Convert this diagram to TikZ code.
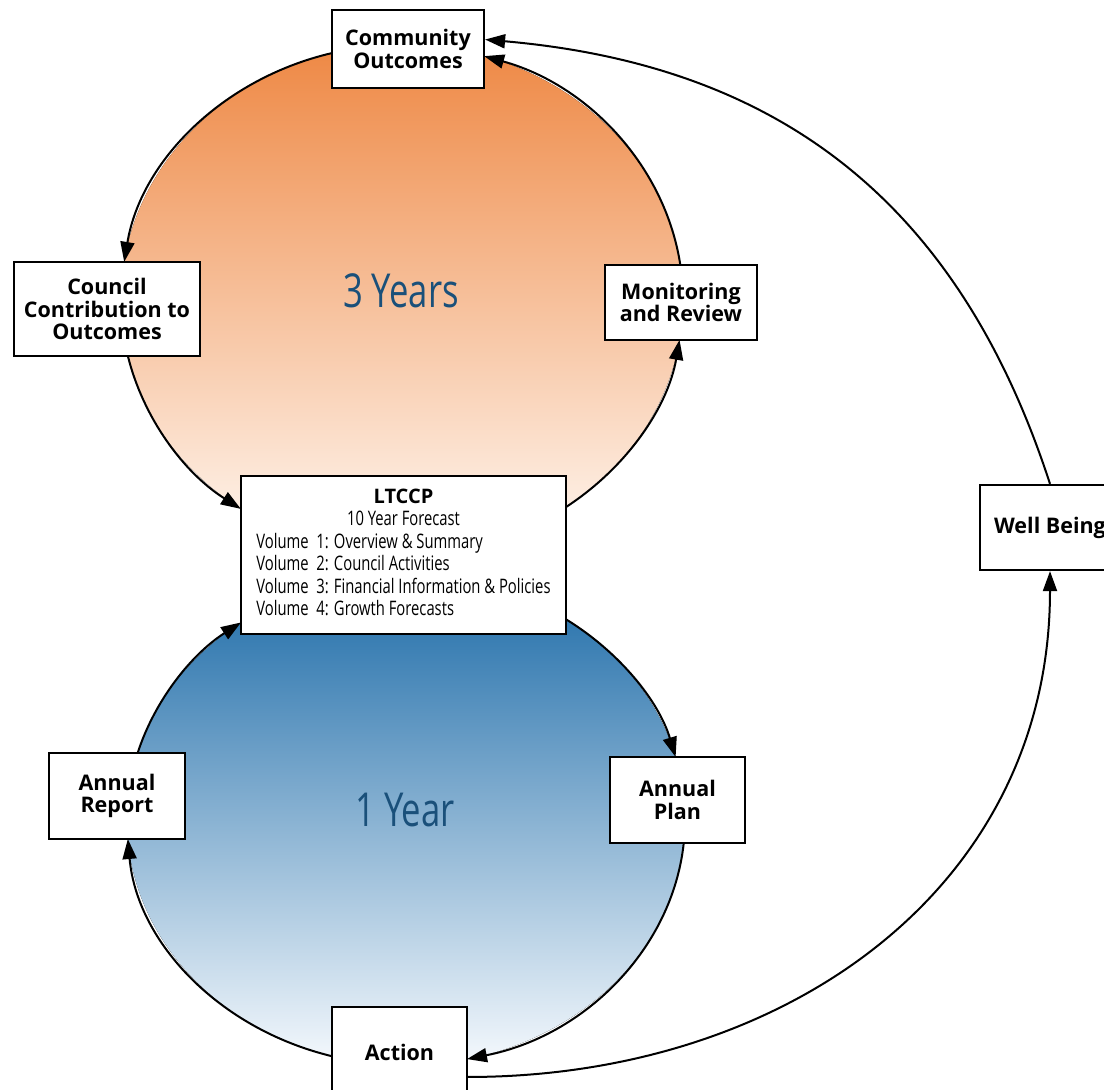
\documentclass[tikz,border=0pt]{standalone}
\usepackage{fontspec}
\setmainfont{Open Sans}
\newfontfamily\condfont[FakeStretch=0.74]{Open Sans}
\usepackage{tikz}
\usetikzlibrary{arrows.meta, calc}
\definecolor{cOrTop}{RGB}{238,136,68}
\definecolor{cOrBot}{RGB}{255,248,242}
\definecolor{cBlTop}{RGB}{30,108,168}
\definecolor{cBlBot}{RGB}{245,249,253}
\definecolor{cYear}{RGB}{26,80,122}
\tikzset{
	stage/.style={rectangle, draw=black, line width=2.2pt, fill=white, align=center, inner sep=0pt, font=\fontsize{21.5}{22.5}\selectfont\bfseries},
	yearlbl/.style={inner sep=0pt, text=cYear, font=\condfont\fontsize{46.8}{48}\selectfont},
	flow/.style={-{Triangle[length=20pt, width=14pt]}, line width=2pt},
}

\begin{document}
\begin{tikzpicture}[x=1pt, y=1pt]
\useasboundingbox (0,0) rectangle (1104,-1090);
\fill[white] (0,0) rectangle (1104,-1090);
% the two cycles, drawn as filled ellipses
\coordinate (top3) at (402,-300);
\coordinate (one1) at (406,-820);
\fill[top color=cOrTop, bottom color=cOrBot] (top3) ellipse [x radius=281, y radius=255];
\fill[top color=cBlTop, bottom color=cBlBot] (one1) ellipse [x radius=279, y radius=245];
\node[yearlbl] (lbl3) at (401,-291) {3 Years};
\node[yearlbl] (lbl1) at (405,-810) {1 Year};
% 3 year cycle
\draw[flow] ($(top3)+(104.4:281 and 255)$) arc[start angle=104.4, end angle=171.4, x radius=281, y radius=255];
\draw[flow] ($(top3)+(192.7:281 and 255)$) arc[start angle=192.7, end angle=235, x radius=281, y radius=255];
\draw[flow] ($(top3)+(305.7:281 and 255)$) arc[start angle=305.7, end angle=351, x radius=281, y radius=255];
\draw[flow] ($(top3)+(7.9:281 and 255)$) arc[start angle=7.9, end angle=73, x radius=281, y radius=255];
% 1 year cycle
\draw[flow] ($(one1)+(55:279 and 245)$) arc[start angle=55, end angle=14.9, x radius=279, y radius=245];
\draw[flow] ($(one1)+(-5.39:279 and 245)$) arc[start angle=-5.39, end angle=-77.37, x radius=279, y radius=245];
\draw[flow] ($(one1)+(254.62:279 and 245)$) arc[start angle=254.62, end angle=184.45, x radius=279, y radius=245];
\draw[flow] ($(one1)+(164.13:279 and 245)$) arc[start angle=164.13, end angle=126.26, x radius=279, y radius=245];

\node[stage, minimum width=152pt, minimum height=78pt] (co) at (408,-49) {Community\\Outcomes};
\node[stage, minimum width=186pt, minimum height=94pt] (cc) at (107,-309) {Council\\Contribution to\\Outcomes};
\node[stage, minimum width=152pt, minimum height=75pt] (mr) at (681,-302.5) {Monitoring\\and Review};
\node[stage, minimum width=325pt, minimum height=158pt, font=\condfont\fontsize{20}{22.5}\selectfont] (lt) at (403.5,-555) {%
	\begin{tabular}{@{}l@{}}
	\multicolumn{1}{@{}c@{}}{\normalfont\bfseries LTCCP}\\
	\multicolumn{1}{@{}c@{}}{10 Year Forecast}\\
	Volume\ \ 1: Overview \& Summary\\
	Volume\ \ 2: Council Activities\\
	Volume\ \ 3: Financial Information \& Policies\\
	Volume\ \ 4: Growth Forecasts
	\end{tabular}};
\node[stage, minimum width=140pt, minimum height=85pt] (wb) at (1050,-527.5) {Well Being};
\node[stage, minimum width=136pt, minimum height=86pt] (ar) at (117,-796) {Annual\\Report};
\node[stage, minimum width=135pt, minimum height=86pt] (ap) at (677.5,-800) {Annual\\Plan};
\node[stage, minimum width=135pt, minimum height=90pt] (act) at (399.5,-1052) {Action};

\draw[flow] (act.-20) to[out=0, in=-90, looseness=1.05] (wb.south);
\draw[flow] (wb.north) to[out=108, in=-5, looseness=1.05] (co.7);
\end{tikzpicture}
\end{document}
